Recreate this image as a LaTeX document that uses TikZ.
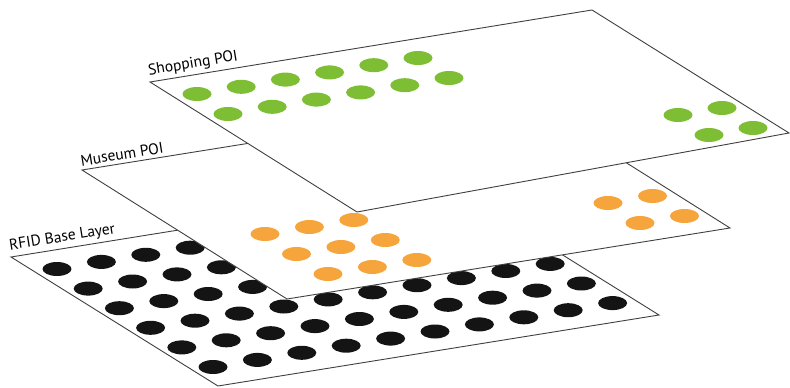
\documentclass[tikz,border=0pt]{standalone}
\usepackage{fontspec}
\setmainfont{PT Sans}
\definecolor{poiorange}{RGB}{245,165,60}
\definecolor{poigreen}{RGB}{126,190,52}
\tikzstyle{layer} = [draw=black!75, fill=white, line width=0.9pt]
\tikzstyle{tag} = [font=\fontsize{15.5}{17}\selectfont, anchor=south west,
	sloped, inner xsep=0pt, inner ysep=3.5pt]
\tikzstyle{rfid} = [fill=black!92]
\tikzstyle{museum} = [fill=poiorange]
\tikzstyle{shop} = [fill=poigreen]

\begin{document}
\begin{tikzpicture}[x=1pt, y=-1pt]
	\useasboundingbox (0,0) rectangle (790,388);

	% Corners of the layers
	\coordinate (baseL) at (11,257);
	\coordinate (baseB) at (218,386);
	\coordinate (baseR) at (659,315);
	\coordinate (baseT) at (452,186);
	\coordinate (museumL) at (82,170);
	\coordinate (museumB) at (287,299);
	\coordinate (museumR) at (730,228);
	\coordinate (museumT) at (525,99);
	\coordinate (shopL) at (150,82);
	\coordinate (shopB) at (357,212);
	\coordinate (shopR) at (789,133);
	\coordinate (shopT) at (592,10);

	% RFID base layer
	\draw [layer] (baseL) -- (baseB) -- (baseR) -- (baseT) -- cycle;
	\path (baseL) -- (baseT) node [tag, pos=0] (baseTag) {RFID Base Layer};
	\foreach \r in {0,...,5}
		\foreach \k in {0,...,9}
			\fill [rfid] ({57+31.2*\r+44.4*\k},{269+19.6*\r-7.1*\k}) ellipse [x radius=14.5, y radius=7];

	% Museum layer
	\draw [layer] (museumL) -- (museumB) -- (museumR) -- (museumT) -- cycle;
	\path (museumL) -- (museumT) node [tag, pos=0] (museumTag) {Museum POI};
	\foreach \r in {0,...,2}
		\foreach \k in {0,...,2}
			\fill [museum] ({265+31.5*\r+44.4*\k},{234+20*\r-7*\k}) ellipse [x radius=14.5, y radius=7];
	\foreach \r in {0,1}
		\foreach \k in {0,1}
			\fill [museum] ({608+32*\r+44.5*\k},{203+20*\r-7*\k}) ellipse [x radius=14.5, y radius=7];

	% Shopping layer
	\draw [layer] (shopL) -- (shopB) -- (shopR) -- (shopT) -- cycle;
	\path (shopL) -- (shopT) node [tag, pos=0] (shopTag) {Shopping POI};
	\foreach \r in {0,1}
		\foreach \k in {0,...,5}
			\fill [shop] ({197+31*\r+44.2*\k},{94+20*\r-7.2*\k}) ellipse [x radius=14.5, y radius=7];
	\foreach \r in {0,1}
		\foreach \k in {0,1}
			\fill [shop] ({678+31*\r+44*\k},{115+20*\r-7*\k}) ellipse [x radius=14.5, y radius=7];
\end{tikzpicture}
\end{document}
